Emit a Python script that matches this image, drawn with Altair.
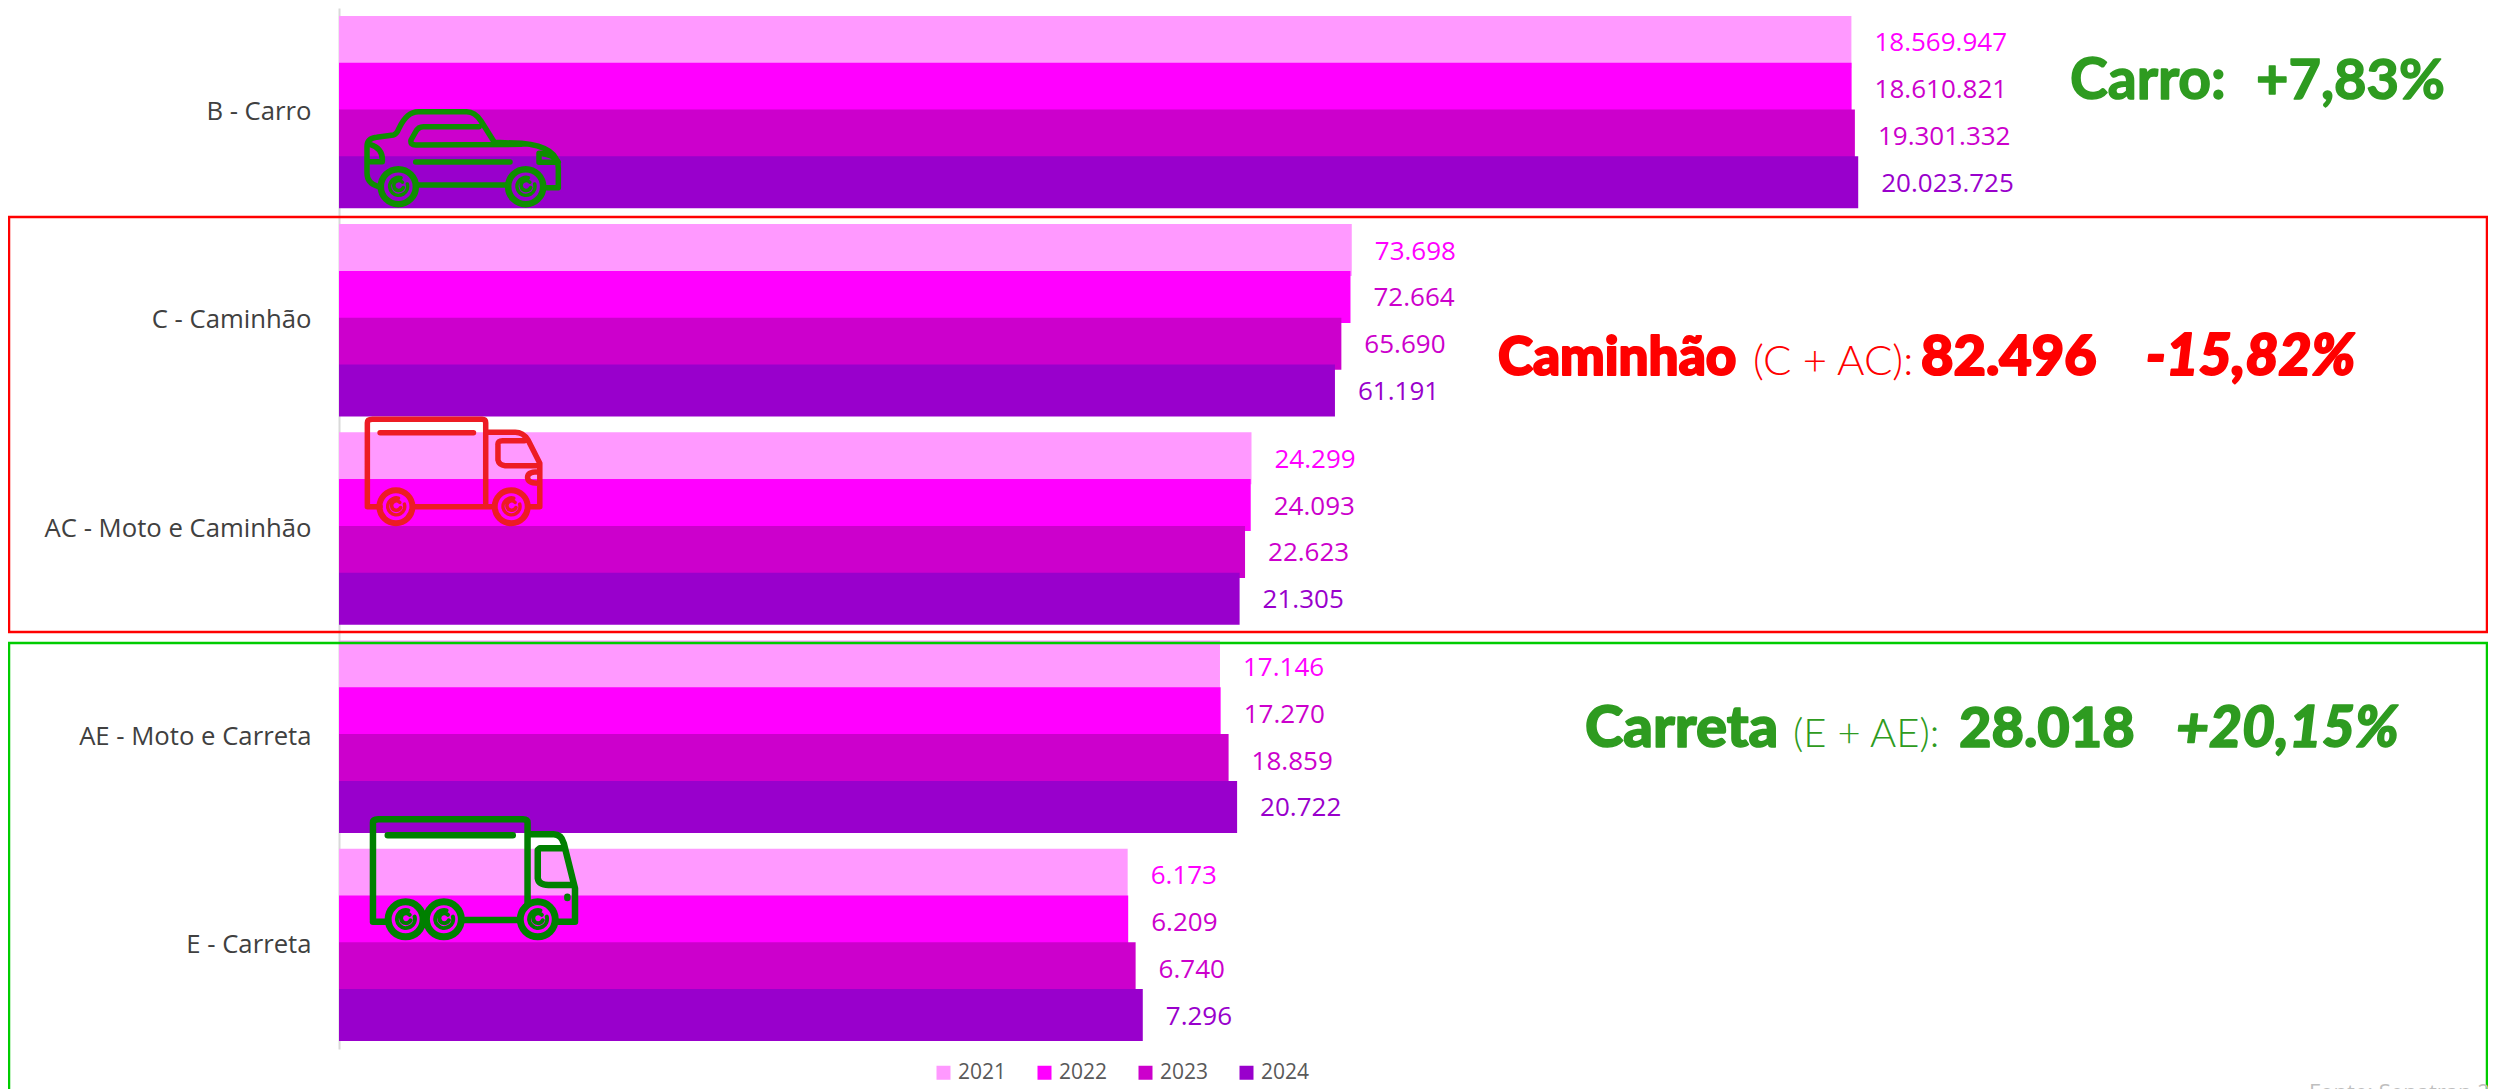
import re
import altair as alt
import pandas as pd

CATS = ["B - Carro", "C - Caminhão", "AC - Moto e Caminhão", "AE - Moto e Carreta", "E - Carreta"]
YEARS = ["2021", "2022", "2023", "2024"]
V2021 = [18569947, 73698, 24299, 17146, 6173]
V2022 = [18610821, 72664, 24093, 17270, 6209]
V2023 = [19301332, 65690, 22623, 18859, 6740]
V2024 = [20023725, 61191, 21305, 20722, 7296]
BAR_COLORS = ["#FF99FF", "#FF00FF", "#CC00CC", "#9900CC"]
LABEL_COLORS = ["#FF00FF", "#CC00CC", "#CC00CC", "#9900CC"]

rows = []
for y, vals in zip(YEARS, [V2021, V2022, V2023, V2024]):
    for c, v in zip(CATS, vals):
        rows.append({"cat": c, "year": y, "v": v, "label": f"{v:,}".replace(",", ".")})
df = pd.DataFrame(rows)

OX, OY = 339, 8
W, H = 2149, 1041
FONT = "Open Sans"

x_enc = alt.X("v:Q", axis=None, scale=alt.Scale(type="log", domain=[1, 2.13e10], clamp=True))
y_enc = alt.Y("cat:N", title=None, sort=CATS,
              scale=alt.Scale(domain=CATS, paddingInner=0, paddingOuter=0),
              axis=alt.Axis(domainColor="#D9D9D9", domainWidth=2, ticks=False, grid=False,
                            labelFont=FONT, labelFontSize=25.7, labelColor="#404040",
                            labelPadding=28, labelLimit=400))
yo_enc = alt.YOffset("year:N", sort=YEARS,
                     scale=alt.Scale(domain=YEARS, paddingInner=0, paddingOuter=0.224))

bars = alt.Chart(df).mark_bar(size=52).encode(
    x=x_enc, y=y_enc, yOffset=yo_enc,
    color=alt.Color("year:N", scale=alt.Scale(domain=YEARS, range=BAR_COLORS),
                    legend=alt.Legend(orient="none", legendX=937 - OX - 4, legendY=1065 - OY - 3,
                                      direction="horizontal", columns=4, title=None,
                                      symbolType="square", symbolSize=196, symbolStrokeWidth=0,
                                      labelFont=FONT, labelFontSize=21, labelColor="#595959",
                                      columnPadding=27, labelOffset=4)),
)
labels = alt.Chart(df).mark_text(align="left", baseline="middle", dx=23, dy=1.5, font=FONT, fontSize=26).encode(
    x=x_enc, y=y_enc, yOffset=yo_enc, text="label:N",
    color=alt.Color("year:N", scale=alt.Scale(domain=YEARS, range=LABEL_COLORS), legend=None),
)


def frame(x1, y1, x2, y2, color):
    return alt.Chart(pd.DataFrame({"a": [0]})).mark_rect(fillOpacity=0, stroke=color, strokeWidth=2.5).encode(
        x=alt.value(x1 - OX), x2=alt.value(x2 - OX), y=alt.value(y1 - OY), y2=alt.value(y2 - OY))


def txt(s, x, y, color, size, weight="bold", style="normal", font="Lato", heavy=0):
    kw = dict(stroke=color, strokeWidth=heavy, strokeJoin="round") if heavy else {}
    return alt.Chart(pd.DataFrame({"t": [s]})).mark_text(
        align="left", baseline="alphabetic", font=font, fontSize=size, fontWeight=weight, fontStyle=style,
        color=color, **kw).encode(text="t:N", x=alt.value(x - OX), y=alt.value(y - OY))


PAIR = re.compile(r"(-?\d+(?:\.\d+)?),(-?\d+(?:\.\d+)?)")


def conv(path, ox, oy, sx, sy, ax, ay):
    return PAIR.sub(lambda m: f"{float(m[1]) / sx + ox - ax:.2f},{float(m[2]) / sy + oy - ay:.2f}", path)


def circ(cx, cy, r, ax, ay):
    cx -= ax
    cy -= ay
    return f"M{cx - r:.2f},{cy:.2f}A{r},{r} 0 1 1 {cx + r:.2f},{cy:.2f}A{r},{r} 0 1 1 {cx - r:.2f},{cy:.2f}"


def spiral(cx, cy, r, ax, ay):
    cx -= ax
    cy -= ay
    return (f"M{cx + r:.2f},{cy - r * 0.3:.2f}A{r},{r} 0 1 1 {cx + r * 0.3:.2f},{cy - r:.2f}"
            f"M{cx + r * 0.45:.2f},{cy - r * 0.5:.2f}A{r * 0.55},{r * 0.55} 0 1 0 {cx + r * 0.55:.2f},{cy + r * 0.1:.2f}")


def icon(path, ax, ay, color, sw):
    return alt.Chart(pd.DataFrame({"a": [0]})).mark_point(
        shape=path, size=4, filled=False, stroke=color, strokeWidth=sw, opacity=1,
        strokeCap="round", strokeJoin="round").encode(x=alt.value(ax - OX), y=alt.value(ay - OY))


# car
CAR = "#0E8E00"
ax, ay = 460, 160
car_p = conv("M70,245Q36,235 36,205L36,125Q36,100 65,97L115,90Q125,88 132,70Q155,20 190,20L335,20Q360,20 378,48L418,112L500,115Q610,125 610,190L610,248L575,248"
             "M190,240L455,240M372,65L205,65Q190,65 182,80L168,105Q165,120 182,120L500,118"
             "M45,118Q85,130 82,170L40,170M552,145L552,172L610,172M552,145Q600,150 610,172M182,171L465,171",
             355, 105, 3, 3, ax, ay)
cw = [(355 + 130 / 3, 105 + 245 / 3), (355 + 512 / 3, 105 + 245 / 3)]
car_w = "".join(circ(c[0], c[1], 17.5, ax, ay) for c in cw)
car_s = "".join(spiral(c[0], c[1], 9, ax, ay) for c in cw)

# red truck
RED = "#ED1C24"
bx, by = 450, 470
red_p = conv("M720,320L720,68Q720,58 730,58L945,58Q952,58 952,68L952,310M745,98L928,98"
             "M955,97L1010,97Q1025,97 1035,120L1058,190L1058,320L1040,320"
             "M1028,122L985,122Q975,122 976,135L976,180Q978,195 990,197L1055,197"
             "M1055,215Q1034,215 1034,232Q1034,250 1055,250M720,320L745,320M810,320L965,320",
             0, 400, 1.96, 3, bx, by)
rw = [(776 / 1.96, 400 + 320 / 3), (1002 / 1.96, 400 + 320 / 3)]
red_w = "".join(circ(c[0], c[1], 16.5, bx, by) for c in rw)
red_s = "".join(spiral(c[0], c[1], 8.5, bx, by) for c in rw)

# green truck
GREEN = "#008000"
dx_, dy_ = 470, 880
grn_p = conv("M731,420L731,128Q731,118 741,118L1025,118Q1034,118 1034,128L1034,370M760,166L1005,166"
             "M1040,163L1085,163Q1100,163 1105,190L1127,325L1127,425L1095,425"
             "M1105,205L1058,205L1054,210L1054,295Q1056,315 1075,315L1120,315"
             "M1112,350L1112,354M731,425L755,425M905,420L1015,420",
             0, 780, 1.96, 3, dx_, dy_)
gw = [(795 / 1.96, 780 + 418 / 3), (870 / 1.96, 780 + 418 / 3), (1054 / 1.96, 780 + 418 / 3)]
grn_w = "".join(circ(c[0], c[1], 17.5, dx_, dy_) for c in gw)
grn_s = "".join(spiral(c[0], c[1], 9, dx_, dy_) for c in gw)

G2 = "#2E9B20"
layers = [
    bars, labels,
    frame(9, 217, 2487, 632, "#FF0000"),
    frame(9, 643, 2487, 1110, "#00CC00"),
    icon(car_p, ax, ay, CAR, 5.5), icon(car_w, ax, ay, CAR, 6.5), icon(car_s, ax, ay, CAR, 3.5),
    icon(red_p, bx, by, RED, 5.5), icon(red_w, bx, by, RED, 6), icon(red_s, bx, by, RED, 3.5),
    icon(grn_p, dx_, dy_, GREEN, 6.5), icon(grn_w, dx_, dy_, GREEN, 7), icon(grn_s, dx_, dy_, GREEN, 4),
    txt("Carro:", 2070, 99, G2, 57, heavy=1.5),
    txt("+7,83%", 2256, 99, G2, 56, heavy=1.5),
    txt("Caminhão", 1498, 375, "#FF0000", 53, weight=900, heavy=2),
    txt("(C + AC):", 1753, 375, "#FF0000", 42, weight=300),
    txt("82.496", 1921, 375, "#FF0000", 56, weight=900, heavy=2),
    txt("-15,82%", 2146, 375, "#FF0000", 57, weight=900, style="italic", heavy=2),
    txt("Carreta", 1585, 747, G2, 58, weight=900, heavy=1.5),
    txt("(E + AE):", 1793, 747, G2, 40, weight=300),
    txt("28.018", 1959, 747, G2, 56, weight=900, heavy=1.5),
    txt("+20,15%", 2176, 747, G2, 57, weight=900, style="italic", heavy=1.5),
    txt("Fonte: Senatran 2024", 2309, 1100, "#BFBFBF", 22, weight="normal", font=FONT),
]

chart = alt.layer(*layers).resolve_scale(color="independent").properties(
    width=W, height=H,
    autosize=alt.AutoSizeParams(type="none"),
    padding={"left": OX - 8, "top": 0, "right": 0, "bottom": 1081 - H},
    background="white",
).configure_view(stroke=None)

chart.save("out.html", embed_options={"renderer": "svg", "actions": False})
